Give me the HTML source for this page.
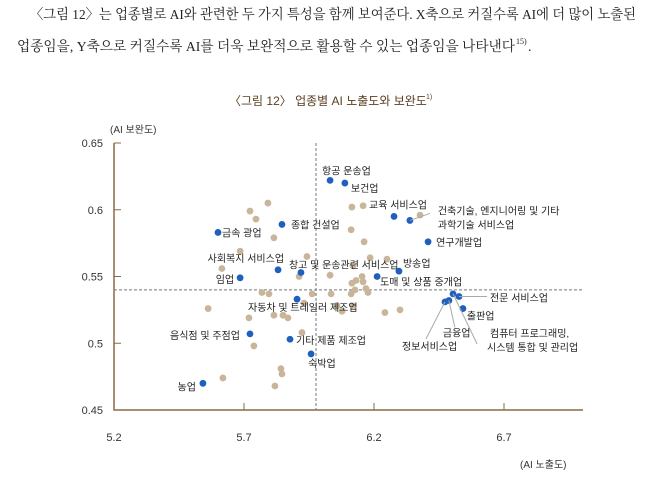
<!DOCTYPE html>
<html><head><meta charset="utf-8">
<style>
body{margin:0;background:#fff;width:660px;height:483px;overflow:hidden}
svg{display:block}
.p{font-family:"Liberation Serif","Noto Serif CJK SC","Noto Sans CJK KR",serif;font-size:14px;fill:#222}
.t{font-family:"Liberation Sans","Noto Sans CJK KR",sans-serif}
</style></head><body>
<svg id="c" width="660" height="483">
<text class="p" x="30" y="19" textLength="606" lengthAdjust="spacingAndGlyphs">〈그림 12〉는 업종별로 AI와 관련한 두 가지 특성을 함께 보여준다. X축으로 커질수록 AI에 더 많이 노출된</text>
<text class="p" x="17" y="51" textLength="498" lengthAdjust="spacingAndGlyphs">업종임을, Y축으로 커질수록 AI를 더욱 보완적으로 활용할 수 있는 업종임을 나타낸다</text>
<text class="p" x="516" y="44" style="font-size:8px">15)</text>
<text class="p" x="528" y="51">.</text>
<text class="t" x="229" y="105" font-size="12" fill="#5a3e22">〈그림 12〉 업종별 AI 노출도와 보완도</text>
<text class="t" x="426" y="99" font-size="7" fill="#5a3e22">1)</text>
<text class="t" x="110" y="133" font-size="10" fill="#333">(AI 보완도)</text>
<text class="t" x="520" y="468" font-size="10" fill="#333">(AI 노출도)</text>
<g id="g"></g>
</svg>
<script>
const xTicks=[5.2,5.7,6.2,6.7];
const yTicks=[0.45,0.5,0.55,0.6,0.65];
const yTickLabels=["0.45","0.5","0.55","0.6","0.65"];
const otherX=[5.723,5.792,5.746,5.815,5.685,5.615,5.942,5.912,6.031,6.115,6.158,6.112,6.162,6.185,6.250,6.119,6.115,6.131,6.154,6.158,6.169,6.177,5.769,5.796,5.962,6.035,6.112,6.127,5.562,5.719,5.815,5.850,5.869,5.923,5.738,5.842,5.846,5.619,5.819,6.058,6.077,6.119,6.242,6.300,5.931,6.377];
const otherY=[0.599,0.605,0.593,0.579,0.569,0.556,0.565,0.550,0.551,0.602,0.603,0.585,0.576,0.564,0.563,0.558,0.545,0.547,0.550,0.546,0.541,0.538,0.538,0.537,0.537,0.537,0.537,0.540,0.526,0.519,0.521,0.521,0.519,0.508,0.498,0.481,0.477,0.474,0.468,0.528,0.524,0.528,0.523,0.525,0.530,0.596];
const hlNames=["항공 운송업","보건업","교육 서비스업","건축기술","연구개발업","종합 건설업","금속 광업","사회복지 서비스업","창고 및 운송관련 서비스업","임업","방송업","도매 및 상품 중개업","정보서비스업","금융업","컴퓨터 프로그래밍","전문 서비스업","출판업","자동차 및 트레일러 제조업","음식점 및 주점업","기타 제품 제조업","숙박업","농업"];
const hlX=[6.031,6.088,6.277,6.338,6.408,5.846,5.600,5.831,5.919,5.685,6.296,6.212,6.473,6.488,6.504,6.527,6.542,5.904,5.723,5.877,5.958,5.542];
const hlY=[0.622,0.620,0.595,0.592,0.576,0.589,0.583,0.555,0.553,0.549,0.554,0.550,0.531,0.532,0.537,0.535,0.526,0.533,0.507,0.503,0.492,0.470];
const meanX=5.977, meanY=0.540;
const NS="http://www.w3.org/2000/svg";
const g=document.getElementById('g');
const X=v=>114+(v-5.2)*260;
const Y=v=>410-(v-0.45)*1335;
function mk(t,a,p){const e=document.createElementNS(NS,t);for(const k in a)e.setAttribute(k,a[k]);(p||g).appendChild(e);return e;}
let ax=mk('path',{d:`M${X(5.2)} ${Y(0.65)} V${Y(0.45)} H583`,stroke:'#8a6a45','stroke-width':1.5,fill:'none'});


yTicks.forEach((v,i)=>{
 const l=mk('line',{x1:114,x2:121,y1:Y(v),y2:Y(v),stroke:'#8a6a45'});
 
 
 const t=mk('text',{x:103,y:Y(v)+4,'text-anchor':'end','font-size':11,fill:'#333',class:'t'});
 t.textContent=yTickLabels[i];
 
 
});
xTicks.forEach(v=>{
 if(v>5.2){const l=mk('line',{x1:X(v),x2:X(v),y1:410,y2:403,stroke:'#8a6a45'});
 
 }
 const t=mk('text',{x:X(v),y:441,'text-anchor':'middle','font-size':11,fill:'#333',class:'t'});
 t.textContent=v.toFixed(1);
 
 
});
let mv=mk('line',{x1:X(meanX),x2:X(meanX),y1:143,y2:410,stroke:'#777','stroke-dasharray':'3,2'});


let mh=mk('line',{x1:114,x2:583,y1:Y(meanY),y2:Y(meanY),stroke:'#777','stroke-dasharray':'3,2'});


otherX.forEach((v,i)=>{
 const c=mk('circle',{cx:X(v),cy:Y(otherY[i]),r:3.4,fill:'#c9b69a'});
 
 
});
hlX.forEach((v,i)=>{
 const c=mk('circle',{cx:X(v),cy:Y(hlY[i]),r:3.4,fill:'#1f5fbf'});
 
 
});
const labels=[[0,-8,-6,'start',['항공 운송업']],[1,6,9,'start',['보건업']],[2,-25,-8,'start',['교육 서비스업']],
[3,28,-6,'start',['건축기술, 엔지니어링 및 기타','      과학기술 서비스업']],[4,8,4,'start',['연구개발업']],[5,9,4,'start',['종합 건설업']],
[6,4,4,'start',['금속 광업']],[7,6,-8,'end',['사회복지 서비스업']],[8,-12,-4,'start',['창고 및 운송관련 서비스업']],
[9,-6,5,'end',['임업']],[10,4,-4,'start',['방송업']],[11,3,9,'start',['도매 및 상품 중개업']],
[12,-43,48,'start',['정보서비스업']],[13,-6,36,'start',['금융업']],[14,37,43,'start',['컴퓨터 프로그래밍,','시스템 통합 및 관리업']],
[15,31,5,'start',['전문 서비스업']],[16,4,11,'start',['출판업']],[17,-49,12,'start',['자동차 및 트레일러 제조업']],
[18,-10,5,'end',['음식점 및 주점업']],[19,6,5,'start',['기타 제품 제조업']],[20,-3,13,'start',['숙박업']],[21,-7,7,'end',['농업']]];
const leaders={3:[20,-7],12:[-19,37],13:[6,27],14:[24,50],15:[28,0]};
for(const k in leaders){const i=+k;const px=X(hlX[i]),py=Y(hlY[i]);
 const l=mk('line',{x1:px,y1:py,x2:px+leaders[k][0],y2:py+leaders[k][1],stroke:'#aaa','stroke-width':1});
 
 }
labels.forEach(L=>{const i=L[0];const px=X(hlX[i]),py=Y(hlY[i]);
 L[4].forEach((s,j)=>{const t=mk('text',{x:px+L[1]-(j&&i==14?3:0),y:py+L[2]+j*14,'text-anchor':L[3],'font-size':10,fill:'#222',class:'t','xml:space':'preserve'});
 t.textContent=s;
 
 });
});
</script>
</body></html>
